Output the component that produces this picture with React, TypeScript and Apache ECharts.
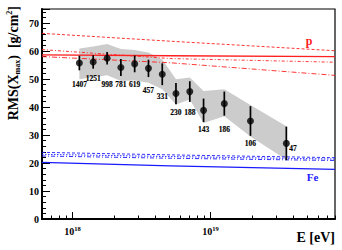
import React, { useEffect, useRef } from "react";
import * as echarts from "echarts";

// Measured bins (energy in EeV = 1e18 eV)
const energyEeV = [1.12, 1.41, 1.78, 2.24, 2.82, 3.55, 4.47, 5.62, 7.08, 8.91, 12.6, 19.5, 35.5];
const rmsXmax = [55.7, 56.1, 57.4, 54.1, 55.4, 53.8, 51.7, 44.8, 45.5, 38.8, 41.2, 35.0, 27.0];
const statErr = [2.6, 2.4, 2.2, 3.0, 3.0, 3.1, 3.9, 3.8, 3.7, 4.2, 4.3, 5.3, 6.0];
const sysUpper = [60.9, 61.6, 62.5, 60.7, 60.4, 59.5, 57.0, 49.9, 50.5, 45.7, 46.3, 40.7, 33.1];
const sysLower = [49.9, 50.6, 51.3, 49.3, 49.5, 48.7, 46.3, 40.9, 42.7, 34.3, 36.7, 29.5, 21.2];
const nEvents = [1407, 1251, 998, 781, 619, 457, 331, 230, 188, 143, 186, 106, 47];
const countLabelAt = [48.2, 50.3, 48.2, 48.2, 48.2, 46.0, 43.9, 38.1, 38.1, 32.0, 32.0, 27.0, 25.2];

// Model predictions (energy in EeV)
const modelEnergyEeV = [0.6, 5.1, 80];
const protonA = [66.3, 63.5, 60.1];
const protonB = [58.6, 58.3, 58.0];
const protonC = [60.5, 57.3, 56.0];
const protonD = [58.0, 55.8, 51.3];
const ironA = [20.2, 19.0, 17.7];
const ironB = [23.8, 22.9, 21.9];
const ironC = [23.1, 22.3, 21.4];
const ironD = [22.5, 21.7, 20.9];

// Axis
const xMinEeV = 0.6;
const xMaxEeV = 80;
const yMin = 0;
const yMax = 75;
const majorDecades = [18, 19];

const lg = (eev: number) => Math.log10(eev * 1e18);
const minorTicks: number[] = [];
[17, 18, 19].forEach((d) => {
  for (let k = 2; k <= 9; k++) {
    const v = Math.log10(k) + d;
    if (v >= lg(xMinEeV) - 1e-9 && v <= lg(xMaxEeV) + 1e-9) minorTicks.push(v);
  }
});

const SERIF = "'Liberation Serif', 'DejaVu Serif', serif";
const RED = "#ff2020";
const BLUE = "#1a1aff";

function modelLine(vals: number[], color: string, type: any, width = 0.9) {
  return {
    type: "line",
    data: modelEnergyEeV.map((e, i) => [lg(e), vals[i]]),
    showSymbol: false,
    symbol: "none",
    silent: true,
    z: 3,
    lineStyle: { color, width, type },
  };
}

export default function App() {
  const ref = useRef<HTMLDivElement>(null);
  useEffect(() => {
    const chart = echarts.init(ref.current!, null, { renderer: "svg" });
    const logE = energyEeV.map(lg);
    const last = logE.length - 1;
    const option: any = {
      animation: false,
      backgroundColor: "#ffffff",
      grid: {
        left: 42,
        top: 9,
        width: 293,
        height: 210,
        show: true,
        borderColor: "#000",
        borderWidth: 1.2,
        backgroundColor: "transparent",
      },
      xAxis: [
        {
          type: "value",
          min: lg(xMinEeV),
          max: lg(xMaxEeV),
          position: "bottom",
          axisLine: { show: true, onZero: false, lineStyle: { color: "#000", width: 2 } },
          axisTick: { show: true, inside: true, length: 7, customValues: majorDecades, lineStyle: { color: "#000", width: 1 } },
          axisLabel: {
            show: true,
            customValues: majorDecades,
            margin: 6,
            formatter: (v: number) => `{b|10}{s|${Math.round(v)}}`,
            rich: {
              b: { fontFamily: SERIF, fontSize: 10, color: "#000", fontWeight: "bold", lineHeight: 12 },
              s: { fontFamily: SERIF, fontSize: 6.5, color: "#000", fontWeight: "bold", verticalAlign: "top", lineHeight: 12, padding: [0, 0, 6, 0] },
            },
          },
          splitLine: { show: false },
        },
        {
          type: "value",
          min: lg(xMinEeV),
          max: lg(xMaxEeV),
          position: "bottom",
          axisLine: { show: false, onZero: false },
          axisTick: { show: true, inside: true, length: 3.5, customValues: minorTicks, lineStyle: { color: "#000", width: 1 } },
          axisLabel: { show: false },
          splitLine: { show: false },
        },
      ],
      yAxis: {
        type: "value",
        min: yMin,
        max: yMax,
        interval: 10,
        axisLine: { show: true, onZero: false, lineStyle: { color: "#000", width: 2 } },
        axisTick: { show: true, inside: true, length: 8, lineStyle: { color: "#000", width: 1 } },
        minorTick: { show: true, splitNumber: 5, length: 4, lineStyle: { color: "#000", width: 1 } },
        axisLabel: { fontFamily: SERIF, fontSize: 10, color: "#000", margin: 3, showMaxLabel: false, fontWeight: "bold" },
        splitLine: { show: false },
      },
      graphic: [
        {
          type: "text",
          x: 13,
          y: 6,
          rotation: Math.PI / 2,
          style: {
            text: "{b|RMS(X}{sub|max}{b|)  [g/cm}{sup|2}{b|]}",
            align: "right",
            verticalAlign: "middle",
            rich: {
              b: { fontFamily: SERIF, fontSize: 14, fontWeight: "bold", fill: "#000", lineHeight: 16, verticalAlign: "middle" },
              sub: { fontFamily: SERIF, fontSize: 8, fontWeight: "bold", fill: "#000", lineHeight: 8, verticalAlign: "bottom", padding: [6, 0, 0, 0] },
              sup: { fontFamily: SERIF, fontSize: 8, fontWeight: "bold", fill: "#000", lineHeight: 8, verticalAlign: "top", padding: [0, 0, 6, 0] },
            },
          },
        },
        {
          type: "text",
          x: 335,
          y: 237,
          style: { text: "E [eV]", align: "right", verticalAlign: "middle", fontFamily: SERIF, fontSize: 14, fontWeight: "bold", fill: "#000" },
        },
        {
          type: "text",
          x: 309,
          y: 41,
          style: { text: "p", align: "center", verticalAlign: "middle", fontFamily: SERIF, fontSize: 12, fontWeight: "bold", fill: RED },
        },
        {
          type: "text",
          x: 312.5,
          y: 177,
          style: { text: "Fe", align: "center", verticalAlign: "middle", fontFamily: SERIF, fontSize: 11, fontWeight: "bold", fill: BLUE },
        },
      ],
      series: [
        {
          type: "custom",
          z: 1,
          silent: true,
          data: [[logE[0], rmsXmax[0]]],
          renderItem: (params: any, api: any) => {
            if (params.dataIndex !== 0) return null;
            const pts: number[][] = [];
            for (let i = 0; i < logE.length; i++) pts.push(api.coord([logE[i], sysUpper[i]]));
            for (let i = logE.length - 1; i >= 0; i--) pts.push(api.coord([logE[i], sysLower[i]]));
            return { type: "polygon", shape: { points: pts }, style: { fill: "#cccccc", stroke: "none" } };
          },
        },
        modelLine(protonA, RED, [3, 2]),
        modelLine(protonB, RED, "solid", 1.3),
        modelLine(protonC, RED, [3, 2, 1, 2]),
        modelLine(protonD, RED, [5, 2, 1, 2]),
        modelLine(ironA, BLUE, "solid", 1.3),
        modelLine(ironB, BLUE, [3, 2]),
        modelLine(ironC, BLUE, [1.5, 1.5]),
        modelLine(ironD, BLUE, [4, 2, 1, 2]),
        {
          type: "custom",
          z: 5,
          silent: true,
          data: logE.map((x, i) => [x, rmsXmax[i] - statErr[i], rmsXmax[i] + statErr[i]]),
          encode: { x: 0, y: [1, 2] },
          renderItem: (params: any, api: any) => {
            const lo = api.coord([api.value(0), api.value(1)]);
            const hi = api.coord([api.value(0), api.value(2)]);
            return {
              type: "line",
              shape: { x1: lo[0], y1: lo[1], x2: hi[0], y2: hi[1] },
              style: { stroke: "#000", lineWidth: 1.7 },
            };
          },
        },
        {
          type: "scatter",
          z: 6,
          symbol: "circle",
          symbolSize: 7,
          itemStyle: { color: "#000" },
          data: logE.map((x, i) => [x, rmsXmax[i]]),
        },
        {
          type: "custom",
          z: 6,
          silent: true,
          data: logE.map((x, i) => [x, countLabelAt[i], nEvents[i]]),
          encode: { x: 0, y: 1 },
          renderItem: (params: any, api: any) => {
            const p = api.coord([api.value(0), api.value(1)]);
            const isLast = params.dataIndex === last;
            return {
              type: "text",
              x: p[0] + (isLast ? 3 : 0),
              y: p[1],
              style: {
                text: String(api.value(2)),
                align: isLast ? "left" : "center",
                verticalAlign: "middle",
                fontFamily: SERIF,
                fontSize: 7.5,
                fontWeight: "bold",
                fill: "#000",
                stroke: "#000",
                lineWidth: 0.15,
              },
            };
          },
        },
      ],
    };
    chart.setOption(option);
    return () => chart.dispose();
  }, []);
  return (
    <div
      ref={ref}
      style={{ position: "fixed", left: 0, top: 0, width: 342, height: 250, background: "#fff" }}
    />
  );
}
